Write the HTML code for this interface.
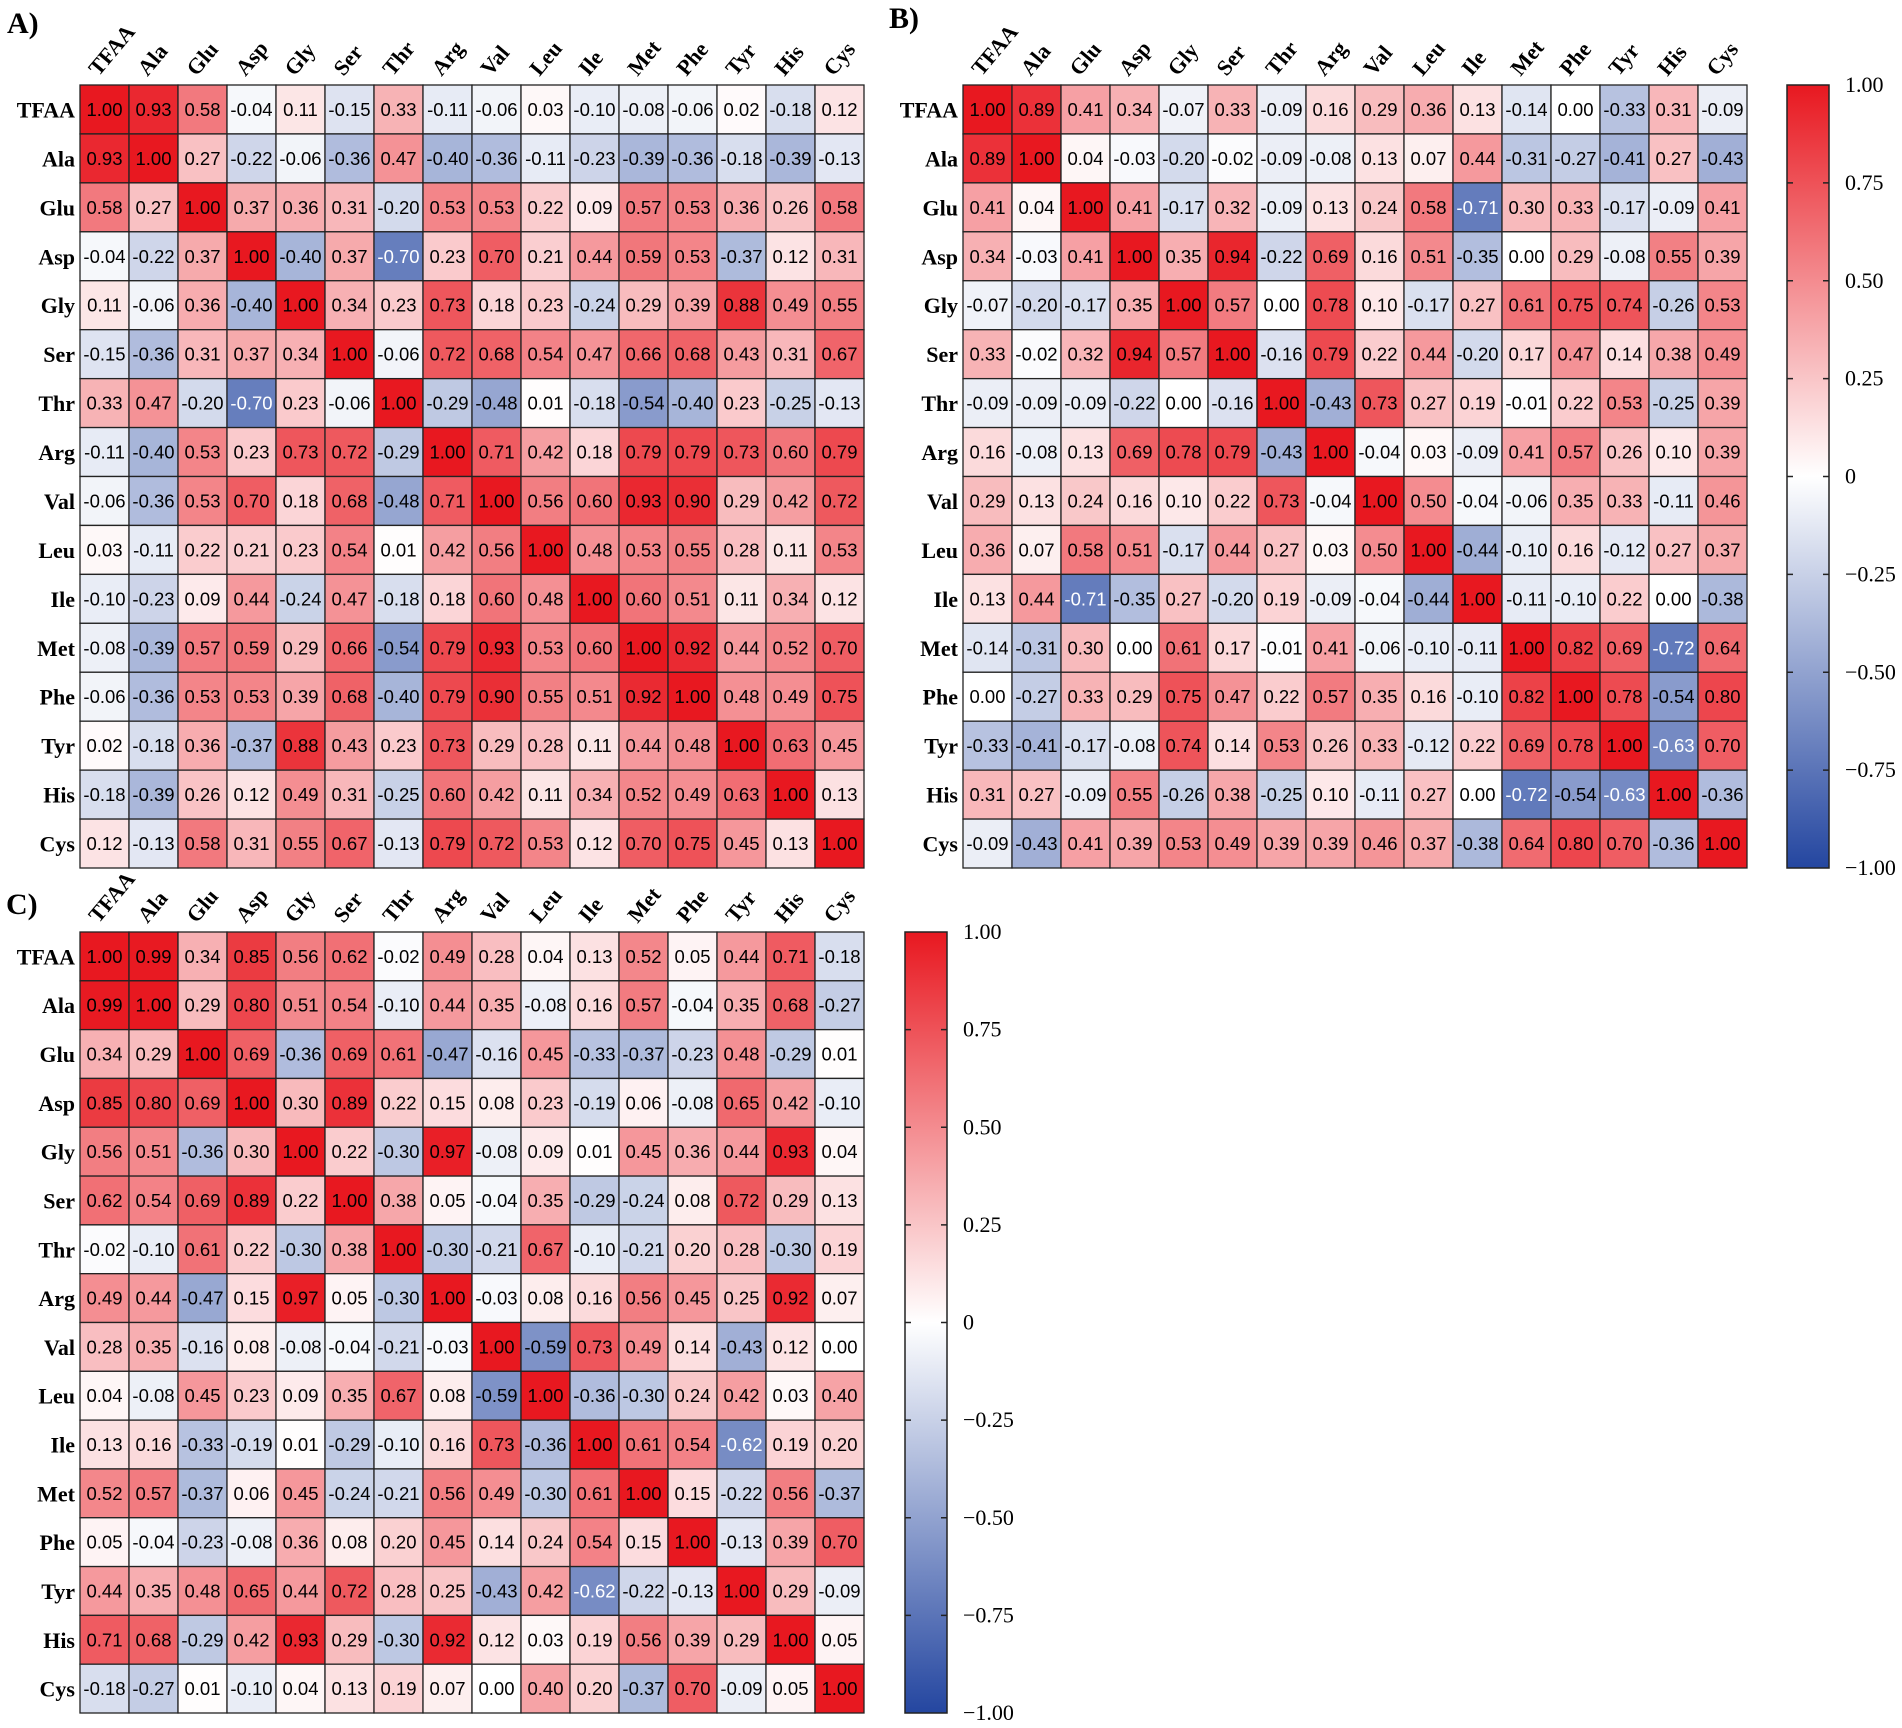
<!DOCTYPE html>
<html><head><meta charset="utf-8"><style>
html,body{margin:0;padding:0;background:#fff;}
svg{display:block;}
</style></head><body>
<svg id="fig" width="1902" height="1728" viewBox="0 0 1902 1728" xmlns="http://www.w3.org/2000/svg">
<defs>
<linearGradient id="cbar" x1="0" y1="0" x2="0" y2="1">
<stop offset="0" stop-color="rgb(232,24,32)"/>
<stop offset="0.5" stop-color="#ffffff"/>
<stop offset="1" stop-color="rgb(36,70,160)"/>
</linearGradient>
</defs>
</svg>
<script>
const labels = ["TFAA","Ala","Glu","Asp","Gly","Ser","Thr","Arg","Val","Leu","Ile","Met","Phe","Tyr","His","Cys"];
const legendTicks = [1,0.75,0.5,0.25,0,-0.25,-0.5,-0.75,-1];
const legendTickLabels = ["1.00","0.75","0.50","0.25","0","\u22120.25","\u22120.50","\u22120.75","\u22121.00"];
const matA = [
[1.00,0.93,0.58,-0.04,0.11,-0.15,0.33,-0.11,-0.06,0.03,-0.10,-0.08,-0.06,0.02,-0.18,0.12],
[0.93,1.00,0.27,-0.22,-0.06,-0.36,0.47,-0.40,-0.36,-0.11,-0.23,-0.39,-0.36,-0.18,-0.39,-0.13],
[0.58,0.27,1.00,0.37,0.36,0.31,-0.20,0.53,0.53,0.22,0.09,0.57,0.53,0.36,0.26,0.58],
[-0.04,-0.22,0.37,1.00,-0.40,0.37,-0.70,0.23,0.70,0.21,0.44,0.59,0.53,-0.37,0.12,0.31],
[0.11,-0.06,0.36,-0.40,1.00,0.34,0.23,0.73,0.18,0.23,-0.24,0.29,0.39,0.88,0.49,0.55],
[-0.15,-0.36,0.31,0.37,0.34,1.00,-0.06,0.72,0.68,0.54,0.47,0.66,0.68,0.43,0.31,0.67],
[0.33,0.47,-0.20,-0.70,0.23,-0.06,1.00,-0.29,-0.48,0.01,-0.18,-0.54,-0.40,0.23,-0.25,-0.13],
[-0.11,-0.40,0.53,0.23,0.73,0.72,-0.29,1.00,0.71,0.42,0.18,0.79,0.79,0.73,0.60,0.79],
[-0.06,-0.36,0.53,0.70,0.18,0.68,-0.48,0.71,1.00,0.56,0.60,0.93,0.90,0.29,0.42,0.72],
[0.03,-0.11,0.22,0.21,0.23,0.54,0.01,0.42,0.56,1.00,0.48,0.53,0.55,0.28,0.11,0.53],
[-0.10,-0.23,0.09,0.44,-0.24,0.47,-0.18,0.18,0.60,0.48,1.00,0.60,0.51,0.11,0.34,0.12],
[-0.08,-0.39,0.57,0.59,0.29,0.66,-0.54,0.79,0.93,0.53,0.60,1.00,0.92,0.44,0.52,0.70],
[-0.06,-0.36,0.53,0.53,0.39,0.68,-0.40,0.79,0.90,0.55,0.51,0.92,1.00,0.48,0.49,0.75],
[0.02,-0.18,0.36,-0.37,0.88,0.43,0.23,0.73,0.29,0.28,0.11,0.44,0.48,1.00,0.63,0.45],
[-0.18,-0.39,0.26,0.12,0.49,0.31,-0.25,0.60,0.42,0.11,0.34,0.52,0.49,0.63,1.00,0.13],
[0.12,-0.13,0.58,0.31,0.55,0.67,-0.13,0.79,0.72,0.53,0.12,0.70,0.75,0.45,0.13,1.00]];
const matB = [
[1.00,0.89,0.41,0.34,-0.07,0.33,-0.09,0.16,0.29,0.36,0.13,-0.14,0.00,-0.33,0.31,-0.09],
[0.89,1.00,0.04,-0.03,-0.20,-0.02,-0.09,-0.08,0.13,0.07,0.44,-0.31,-0.27,-0.41,0.27,-0.43],
[0.41,0.04,1.00,0.41,-0.17,0.32,-0.09,0.13,0.24,0.58,-0.71,0.30,0.33,-0.17,-0.09,0.41],
[0.34,-0.03,0.41,1.00,0.35,0.94,-0.22,0.69,0.16,0.51,-0.35,0.00,0.29,-0.08,0.55,0.39],
[-0.07,-0.20,-0.17,0.35,1.00,0.57,0.00,0.78,0.10,-0.17,0.27,0.61,0.75,0.74,-0.26,0.53],
[0.33,-0.02,0.32,0.94,0.57,1.00,-0.16,0.79,0.22,0.44,-0.20,0.17,0.47,0.14,0.38,0.49],
[-0.09,-0.09,-0.09,-0.22,0.00,-0.16,1.00,-0.43,0.73,0.27,0.19,-0.01,0.22,0.53,-0.25,0.39],
[0.16,-0.08,0.13,0.69,0.78,0.79,-0.43,1.00,-0.04,0.03,-0.09,0.41,0.57,0.26,0.10,0.39],
[0.29,0.13,0.24,0.16,0.10,0.22,0.73,-0.04,1.00,0.50,-0.04,-0.06,0.35,0.33,-0.11,0.46],
[0.36,0.07,0.58,0.51,-0.17,0.44,0.27,0.03,0.50,1.00,-0.44,-0.10,0.16,-0.12,0.27,0.37],
[0.13,0.44,-0.71,-0.35,0.27,-0.20,0.19,-0.09,-0.04,-0.44,1.00,-0.11,-0.10,0.22,0.00,-0.38],
[-0.14,-0.31,0.30,0.00,0.61,0.17,-0.01,0.41,-0.06,-0.10,-0.11,1.00,0.82,0.69,-0.72,0.64],
[0.00,-0.27,0.33,0.29,0.75,0.47,0.22,0.57,0.35,0.16,-0.10,0.82,1.00,0.78,-0.54,0.80],
[-0.33,-0.41,-0.17,-0.08,0.74,0.14,0.53,0.26,0.33,-0.12,0.22,0.69,0.78,1.00,-0.63,0.70],
[0.31,0.27,-0.09,0.55,-0.26,0.38,-0.25,0.10,-0.11,0.27,0.00,-0.72,-0.54,-0.63,1.00,-0.36],
[-0.09,-0.43,0.41,0.39,0.53,0.49,0.39,0.39,0.46,0.37,-0.38,0.64,0.80,0.70,-0.36,1.00]];
const matC = [
[1.00,0.99,0.34,0.85,0.56,0.62,-0.02,0.49,0.28,0.04,0.13,0.52,0.05,0.44,0.71,-0.18],
[0.99,1.00,0.29,0.80,0.51,0.54,-0.10,0.44,0.35,-0.08,0.16,0.57,-0.04,0.35,0.68,-0.27],
[0.34,0.29,1.00,0.69,-0.36,0.69,0.61,-0.47,-0.16,0.45,-0.33,-0.37,-0.23,0.48,-0.29,0.01],
[0.85,0.80,0.69,1.00,0.30,0.89,0.22,0.15,0.08,0.23,-0.19,0.06,-0.08,0.65,0.42,-0.10],
[0.56,0.51,-0.36,0.30,1.00,0.22,-0.30,0.97,-0.08,0.09,0.01,0.45,0.36,0.44,0.93,0.04],
[0.62,0.54,0.69,0.89,0.22,1.00,0.38,0.05,-0.04,0.35,-0.29,-0.24,0.08,0.72,0.29,0.13],
[-0.02,-0.10,0.61,0.22,-0.30,0.38,1.00,-0.30,-0.21,0.67,-0.10,-0.21,0.20,0.28,-0.30,0.19],
[0.49,0.44,-0.47,0.15,0.97,0.05,-0.30,1.00,-0.03,0.08,0.16,0.56,0.45,0.25,0.92,0.07],
[0.28,0.35,-0.16,0.08,-0.08,-0.04,-0.21,-0.03,1.00,-0.59,0.73,0.49,0.14,-0.43,0.12,0.00],
[0.04,-0.08,0.45,0.23,0.09,0.35,0.67,0.08,-0.59,1.00,-0.36,-0.30,0.24,0.42,0.03,0.40],
[0.13,0.16,-0.33,-0.19,0.01,-0.29,-0.10,0.16,0.73,-0.36,1.00,0.61,0.54,-0.62,0.19,0.20],
[0.52,0.57,-0.37,0.06,0.45,-0.24,-0.21,0.56,0.49,-0.30,0.61,1.00,0.15,-0.22,0.56,-0.37],
[0.05,-0.04,-0.23,-0.08,0.36,0.08,0.20,0.45,0.14,0.24,0.54,0.15,1.00,-0.13,0.39,0.70],
[0.44,0.35,0.48,0.65,0.44,0.72,0.28,0.25,-0.43,0.42,-0.62,-0.22,-0.13,1.00,0.29,-0.09],
[0.71,0.68,-0.29,0.42,0.93,0.29,-0.30,0.92,0.12,0.03,0.19,0.56,0.39,0.29,1.00,0.05],
[-0.18,-0.27,0.01,-0.10,0.04,0.13,0.19,0.07,0.00,0.40,0.20,-0.37,0.70,-0.09,0.05,1.00]];

const NS="http://www.w3.org/2000/svg";
const svg=document.getElementById('fig');
function mk(tag,attrs,parent){const e=document.createElementNS(NS,tag);for(const k in attrs)e.setAttribute(k,attrs[k]);(parent||svg).appendChild(e);return e;}
function color(v){
  if(v>=0){const t=v;return `rgb(${Math.round(255-(255-232)*t)},${Math.round(255-(255-24)*t)},${Math.round(255-(255-32)*t)})`;}
  const t=-v;return `rgb(${Math.round(255-(255-36)*t)},${Math.round(255-(255-70)*t)},${Math.round(255-(255-160)*t)})`;
}
function fmt(v){return v.toFixed(2);}
const SERIF='"Liberation Serif", serif', SANS='"Liberation Sans", sans-serif';

function heatmap(name,mat,x0,y0,w,h,letter,lx,ly){
  const g=mk('g',{});
  
  
  const n=labels.length, cw=w/n, ch=h/n;
  const xs=i=>x0+i*cw, ys=j=>y0+j*ch;
  const t=mk('text',{x:lx,y:ly,'font-family':SERIF,'font-weight':'bold','font-size':30,fill:'#000'},g);
  t.textContent=letter;
  
  
  for(let r=0;r<n;r++){
    for(let c=0;c<n;c++){
      const v=mat[r][c];
      const rect=mk('rect',{x:xs(c),y:ys(r),width:cw,height:ch,fill:color(v),stroke:'#222','stroke-width':1.3},g);
      
      
      const tx=mk('text',{x:xs(c)+cw/2,y:ys(r)+ch/2+6.5,'text-anchor':'middle','font-family':SANS,'font-size':18.5,fill:Math.abs(v)>0.85&&v<0?'#fff':'#000'},g);
      if(v<-0.6) tx.setAttribute('fill','#fff');
      tx.textContent=fmt(v);
      
      
    }
    const rl=mk('text',{x:x0-5,y:ys(r)+ch/2+8,'text-anchor':'end','font-family':SERIF,'font-weight':'bold','font-size':22,fill:'#000'},g);
    rl.textContent=labels[r];
    
    
  }
  for(let c=0;c<n;c++){
    const cx=xs(c)+cw/2-6, cy=y0-8;
    const cl=mk('text',{x:cx,y:cy,'font-family':SERIF,'font-weight':'bold','font-size':22,fill:'#000',transform:`rotate(-50 ${cx} ${cy})`},g);
    cl.textContent=labels[c];
    
    
  }
}
function legend(name,x0,y0,w,h){
  const g=mk('g',{});
  
  
  const r=mk('rect',{x:x0,y:y0,width:w,height:h,fill:'url(#cbar)',stroke:'#222','stroke-width':1.5},g);
  
  
  const yv=v=>y0+(1-v)/2*h;
  legendTicks.forEach((v,i)=>{
    const y=yv(v);
    if(v<1&&v>-1){
      mk('line',{x1:x0,x2:x0+6,y1:y,y2:y,stroke:'#222','stroke-width':1.5},g);
      mk('line',{x1:x0+w-6,x2:x0+w,y1:y,y2:y,stroke:'#222','stroke-width':1.5},g);
    }
    const t=mk('text',{x:x0+w+16,y:y+7,'font-family':SERIF,'font-size':22,fill:'#000'},g);
    t.textContent=legendTickLabels[i];
    
    
  });
}
heatmap('heatmap-a',matA,80,85,784,783,'A)',7,33);
heatmap('heatmap-b',matB,963,85,784,783,'B)',889,28);
heatmap('heatmap-c',matC,80,932,784,781,'C)',6,914);
legend('legend-b',1787,85,42,783);
legend('legend-c',905,932,42,781);
</script>
</body></html>
